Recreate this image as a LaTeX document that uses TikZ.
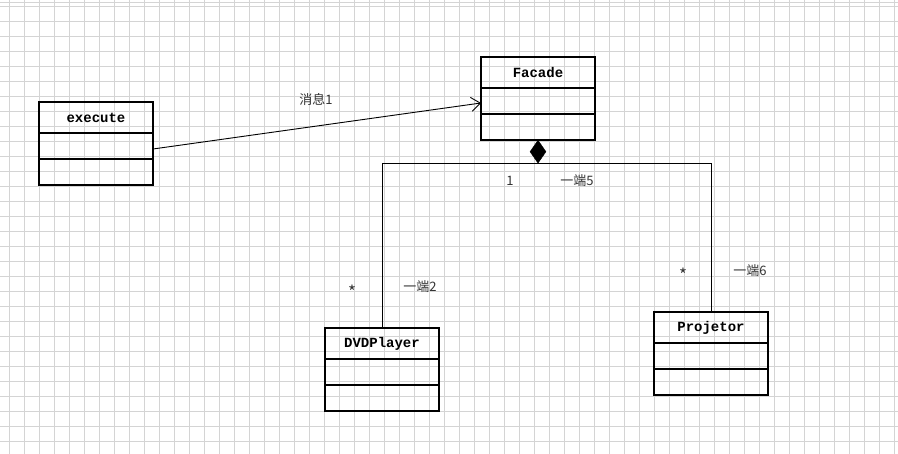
\documentclass[tikz,border=0pt]{standalone}
\usepackage{fontspec}
\setmonofont{Liberation Mono}
\newfontfamily\cjk{Noto Sans CJK SC}
\usetikzlibrary{positioning,shapes.geometric,arrows.meta}

\tikzset{
    gridline/.style={draw=black!17, line width=0.6pt},
    classname/.style={draw, line width=1.2pt, minimum width=114pt, minimum height=31pt,
        inner sep=0pt, outer sep=0pt, font=\ttfamily\bfseries\fontsize{14}{16}\selectfont},
    classpart/.style={draw, line width=1.2pt, minimum width=114pt, minimum height=26pt,
        inner sep=0pt, outer sep=0pt},
    lbl/.style={inner sep=0pt, text=black!80, font=\cjk\fontsize{13}{15}\selectfont},
    star/.style={lbl, font=\cjk\fontsize{17}{19}\selectfont},
}

\begin{document}
\begin{tikzpicture}[x=1pt, y=-1pt]
    \useasboundingbox (0,0) rectangle (898,454);
    \fill [white] (0,0) rectangle (898,454);
    % grid
    \foreach \x in {9.5,24.5,...,898} \draw [gridline] (\x,0) -- (\x,454);
    \foreach \y in {6,21,...,454} \draw [gridline] (0,\y) -- (898,\y);
    \draw [gridline] (0,2.5) -- (898,2.5);

    % classes
    \node [classname, anchor=north west] (exe1) at (39,102) {execute};
    \node [classpart, below=0pt of exe1] (exe2) {};
    \node [classpart, below=0pt of exe2] (exe3) {};

    \node [classname, anchor=north west] (fac1) at (481,57) {Facade};
    \node [classpart, below=0pt of fac1] (fac2) {};
    \node [classpart, below=0pt of fac2] (fac3) {};

    \node [classname, anchor=north west] (dvd1) at (325,328) {DVDPlayer};
    \node [classpart, below=0pt of dvd1] (dvd2) {};
    \node [classpart, below=0pt of dvd2] (dvd3) {};

    \node [classname, anchor=north west] (proj1) at (654,312) {Projetor};
    \node [classpart, below=0pt of proj1] (proj2) {};
    \node [classpart, below=0pt of proj2] (proj3) {};

    % composition
    \node [diamond, fill=black, draw=black, inner sep=0pt, aspect=0.7,
        minimum width=16pt, minimum height=23pt, anchor=north] (dia) at (fac3.south) {};
    \draw [line width=0.9pt] (dvd1.north) |- (dia.south) -| (proj1.north);

    % message
    \draw [line width=0.9pt, -{Straight Barb[length=9pt, width=14pt, line width=0.9pt]}]
        ([yshift=-3pt]exe2.east) -- ([yshift=-2pt]fac2.west);

    % labels
    \node [lbl] (m1) at (316,99) {消息1};
    \node [lbl] (r1) at (510,181) {1};
    \node [lbl] (r5) at (577,181) {一端5};
    \node [star] (s2) at (352,292) {*};
    \node [lbl] (r2) at (420,287) {一端2};
    \node [star] (s6) at (683,275) {*};
    \node [lbl] (r6) at (750,271) {一端6};
\end{tikzpicture}
\end{document}
